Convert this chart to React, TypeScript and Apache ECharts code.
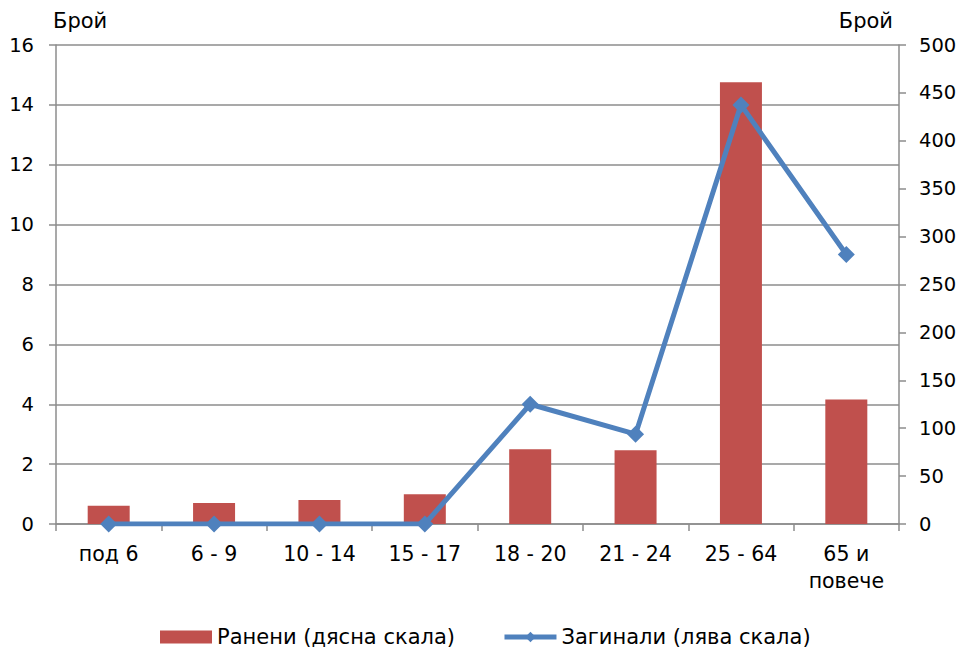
import React, { useEffect, useRef } from "react";
import * as echarts from "echarts";

const categories = ["под 6", "6 - 9", "10 - 14", "15 - 17", "18 - 20", "21 - 24", "25 - 64", "65 и\nповече"];
const injured = [19, 22, 25, 31, 78, 77, 461, 130];
const killed = [0, 0, 0, 0, 4, 3, 14, 9];
const leftTicks = { min: 0, max: 16, interval: 2 };
const rightTicks = { min: 0, max: 500, interval: 50 };

const FONT = "DejaVu Sans";
const GRAY = "#8c8c8c";

export default function App() {
  const ref = useRef<HTMLDivElement>(null);
  useEffect(() => {
    if (!ref.current) return;
    const chart = echarts.init(ref.current, undefined, { renderer: "svg" });
    chart.setOption({
      animation: false,
      backgroundColor: "#ffffff",
      textStyle: { fontFamily: FONT },
      grid: { left: 56, right: 64, top: 45, bottom: 124, containLabel: false },
      legend: {
        left: 160,
        top: 624,
        padding: 0,
        itemWidth: 52,
        itemHeight: 13,
        itemGap: 47,
        textStyle: { fontFamily: FONT, fontSize: 21, color: "#000", lineHeight: 26 },
        data: [
          { name: "Ранени (дясна скала)", icon: "rect" },
          { name: "Загинали (лява скала)", lineStyle: { width: 5, color: "#4F81BD" } },
        ],
      },
      graphic: [
        { type: "text", left: 53, top: 10, style: { text: "Брой", font: `21px "${FONT}"`, fill: "#000" } },
        { type: "text", right: 70, top: 10, style: { text: "Брой", font: `21px "${FONT}"`, fill: "#000" } },
      ],
      xAxis: {
        type: "category",
        data: categories,
        boundaryGap: true,
        axisLine: { lineStyle: { color: GRAY, width: 1.5 } },
        axisTick: { show: true, length: 7, lineStyle: { color: GRAY, width: 1.5 } },
        axisLabel: { color: "#000", fontSize: 20.5, fontFamily: FONT, margin: 16, lineHeight: 27, interval: 0 },
      },
      yAxis: [
        {
          type: "value",
          position: "left",
          ...leftTicks,
          axisLine: { show: true, lineStyle: { color: GRAY, width: 1.5 } },
          axisTick: { show: true, length: 7, lineStyle: { color: GRAY, width: 1.5 } },
          axisLabel: { color: "#000", fontSize: 19.5, fontFamily: FONT, margin: 22 },
          splitLine: { show: true, lineStyle: { color: GRAY, width: 1.5 } },
        },
        {
          type: "value",
          position: "right",
          ...rightTicks,
          axisLine: { show: true, lineStyle: { color: GRAY, width: 1.5 } },
          axisTick: { show: true, length: 7, lineStyle: { color: GRAY, width: 1.5 } },
          axisLabel: { color: "#000", fontSize: 19.5, fontFamily: FONT, margin: 20 },
          splitLine: { show: false },
        },
      ],
      series: [
        {
          name: "Ранени (дясна скала)",
          type: "bar",
          yAxisIndex: 1,
          data: injured,
          barWidth: 42,
          itemStyle: { color: "#C0504D" },
          z: 2,
        },
        {
          name: "Загинали (лява скала)",
          type: "line",
          yAxisIndex: 0,
          data: killed,
          symbol: "diamond",
          symbolSize: 17,
          lineStyle: { color: "#4F81BD", width: 5 },
          itemStyle: { color: "#4F81BD" },
          z: 3,
        },
      ],
    });
    return () => chart.dispose();
  }, []);
  return <div ref={ref} style={{ position: "fixed", left: 0, top: 0, width: 963, height: 648 }} />;
}
